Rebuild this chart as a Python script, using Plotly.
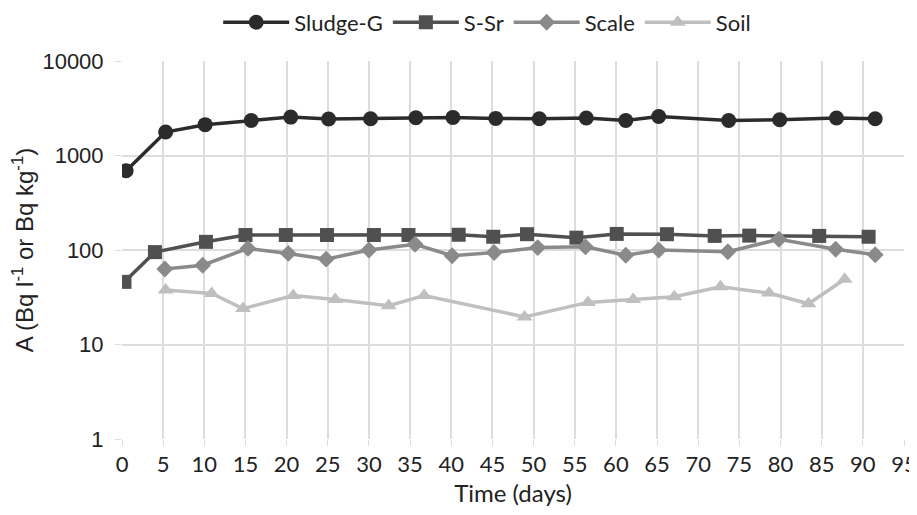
import plotly.graph_objects as go

# Sludge-G
sludge_days = [0.5, 5.3, 10.1, 15.7, 20.5, 25.1, 30.2, 35.7, 40.2, 45.4, 50.7, 56.4, 61.2, 65.2, 73.7, 79.9, 86.8, 91.5]
sludge_vals = [690, 1770, 2120, 2350, 2550, 2430, 2450, 2510, 2530, 2470, 2450, 2490, 2350, 2590, 2350, 2390, 2490, 2450]

# S-Sr
ssr_days = [0.3, 4.0, 10.2, 15.0, 19.9, 24.9, 30.6, 34.8, 40.9, 45.1, 49.2, 55.2, 60.1, 66.2, 72.0, 76.2, 84.7, 90.7]
ssr_vals = [46, 95, 122, 144, 144, 144, 144, 144, 145, 138, 147, 135, 148, 147, 141, 142, 141, 138]

# Scale
scale_days = [5.2, 9.8, 15.3, 20.2, 24.8, 30.0, 35.6, 40.1, 45.2, 50.5, 56.3, 61.2, 65.2, 73.6, 79.8, 86.7, 91.5]
scale_vals = [63, 69, 104, 92, 80, 100, 115, 87, 94, 106, 108, 88, 100, 96, 130, 102, 89]

# Soil
soil_days = [5.3, 10.9, 14.7, 20.8, 25.9, 32.4, 36.7, 48.9, 56.6, 62.1, 67.1, 72.7, 78.6, 83.4, 87.8]
soil_vals = [37.7, 34.7, 24, 33, 30, 25.7, 33, 19.6, 27.9, 30, 32, 40.8, 35, 27, 49]

x_ticks = list(range(0, 96, 5))
y_tickvals = [1, 10, 100, 1000, 10000]
y_ticktext = ["1", "10", "100", "1000", "10000"]

series = [
    ("Sludge-G", sludge_days, sludge_vals, "#2b2b2b", "circle", 15),
    ("S-Sr", ssr_days, ssr_vals, "#505050", "square", 14),
    ("Scale", scale_days, scale_vals, "#8a8a8a", "diamond", 13),
    ("Soil", soil_days, soil_vals, "#bfbfbf", "triangle-up", 14),
]

fig = go.Figure()
for name, xs, ys, col, sym, sz in series:
    fig.add_trace(go.Scatter(
        x=xs, y=ys, name=name, mode="lines+markers",
        line=dict(color=col, width=3.5),
        marker=dict(symbol=sym, size=sz, color=col),
    ))

grid = "#dddddd"
txt = "#222222"
fig.update_layout(
    width=909, height=499,
    margin=dict(l=114, r=13, t=53, b=68, autoexpand=False),
    plot_bgcolor="white", paper_bgcolor="white",
    showlegend=True,
    legend=dict(orientation="h", x=0.467, xanchor="center", y=0.971, yanchor="middle",
                yref="container",
                font=dict(family="Lato", size=22, color=txt),
                itemwidth=66, traceorder="normal"),
    xaxis=dict(range=[0, 95], tickvals=x_ticks, showgrid=True, gridcolor=grid, gridwidth=1.5,
               zeroline=False, showline=False, ticks="outside", ticklen=6, tickcolor=grid,
               tickfont=dict(family="Lato", size=22, color=txt),
               title=dict(text="Time (days)", font=dict(family="Lato", size=24, color=txt), standoff=10)),
    yaxis=dict(type="log", range=[0, 4], tickvals=y_tickvals, ticktext=y_ticktext,
               showgrid=True, gridcolor=grid, gridwidth=1.5, zeroline=False, showline=False,
               ticks="outside", ticklen=6, tickcolor=grid, ticklabelstandoff=7,
               tickfont=dict(family="Liberation Sans", size=22, color=txt),
               title=dict(text="A (Bq l<sup>-1</sup> or Bq kg<sup>-1</sup>)",
                          font=dict(family="Liberation Sans", size=24, color=txt), standoff=2)),
)

fig.write_html("out.html")
